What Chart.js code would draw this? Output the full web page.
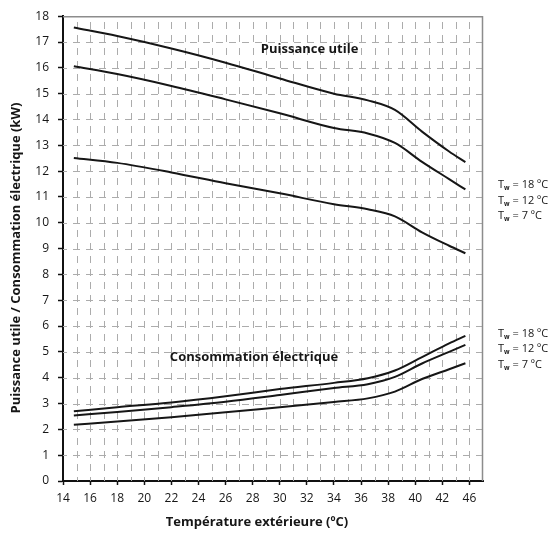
<!DOCTYPE html>
<html>
<head>
<meta charset="utf-8">
<script src="https://cdn.jsdelivr.net/npm/chart.js@4/dist/chart.umd.min.js"></script>
<style>
  html, body { margin: 0; padding: 0; background: #ffffff; }
  #c { display: block; }
</style>
</head>
<body>
<canvas id="c" width="556" height="538" style="width:556px;height:538px"></canvas>
<script>
// Outdoor temperature positions along the x axis (°C scale units)
const temperatures = [14.8, 18, 22, 26, 30, 34, 36.5, 38.5, 40.5, 42.5, 43.7];

// Heating output (kW) for three water temperatures
const puissanceTw18 = [17.56, 17.23, 16.75, 16.2, 15.59, 15.0, 14.74, 14.37, 13.53, 12.76, 12.35];
const puissanceTw12 = [16.06, 15.76, 15.30, 14.78, 14.24, 13.67, 13.46, 13.09, 12.36, 11.69, 11.29];
const puissanceTw7  = [12.51, 12.32, 11.95, 11.53, 11.14, 10.72, 10.52, 10.25, 9.63, 9.11, 8.82];

// Electrical consumption (kW) for the same water temperatures
const consoTw18 = [2.70, 2.86, 3.04, 3.28, 3.56, 3.80, 3.98, 4.28, 4.80, 5.33, 5.62];
const consoTw12 = [2.54, 2.67, 2.86, 3.07, 3.33, 3.60, 3.75, 4.03, 4.55, 5.00, 5.27];
const consoTw7  = [2.18, 2.30, 2.47, 2.66, 2.86, 3.06, 3.20, 3.46, 3.95, 4.33, 4.56];

// Labels shown under the even x ticks
const xTickLabels = ['14', '16', '18', '20', '22', '24', '26', '28', '30', '32', '34', '36', '38', '40', '42', '46'];

// Water temperatures of the three curves in each group
const waterTemps = ['18', '12', '7'];

const FONT = "'Open Sans', 'DejaVu Sans', sans-serif";
Chart.defaults.font.family = FONT;
Chart.defaults.color = '#1a1a1a';

function toPoints(values) {
  return temperatures.map((t, i) => ({ x: t, y: values[i] }));
}

function curve(label, values) {
  return {
    label,
    data: toPoints(values),
    borderColor: '#161616',
    borderWidth: 2,
    pointRadius: 0,
    fill: false,
    cubicInterpolationMode: 'monotone'
  };
}

const TEXT_DARK = '#161616';

// Dashed background grid: one line per degree, one per kW
const dashedGrid = {
  id: 'dashedGrid',
  beforeDatasetsDraw(chart) {
    const { ctx, chartArea: a, scales: { x, y } } = chart;
    ctx.save();
    ctx.strokeStyle = '#acacac';
    ctx.lineWidth = 1;
    ctx.setLineDash([7, 6]);
    ctx.lineDashOffset = 3;
    for (let v = Math.ceil(x.min) + 1; v < x.max; v++) {
      const px = Math.round(x.getPixelForValue(v)) + 0.5;
      ctx.beginPath();
      ctx.moveTo(px, a.bottom);
      ctx.lineTo(px, a.top);
      ctx.stroke();
    }
    for (let v = Math.ceil(y.min) + 1; v < y.max; v++) {
      const py = Math.round(y.getPixelForValue(v)) + 0.5;
      ctx.beginPath();
      ctx.moveTo(a.left, py);
      ctx.lineTo(a.right, py);
      ctx.stroke();
    }
    ctx.restore();
  }
};

// Frame, axis titles and curve captions
const decorations = {
  id: 'decorations',
  afterDraw(chart) {
    const { ctx, chartArea: a, scales: { x, y } } = chart;
    ctx.save();

    // light frame on top and right
    ctx.strokeStyle = '#8c8c8c';
    ctx.lineWidth = 1.5;
    ctx.beginPath();
    ctx.moveTo(a.left, a.top + 0.5);
    ctx.lineTo(a.right - 0.5, a.top + 0.5);
    ctx.lineTo(a.right - 0.5, a.bottom);
    ctx.stroke();

    ctx.fillStyle = TEXT_DARK;
    ctx.textBaseline = 'middle';
    ctx.textAlign = 'center';

    // curve group captions
    ctx.font = 'bold 13px ' + FONT;
    ctx.fillText('Puissance utile', x.getPixelForValue(32.2), y.getPixelForValue(16.7));
    ctx.fillText('Consommation électrique', x.getPixelForValue(28.1), y.getPixelForValue(4.8));

    // axis titles
    ctx.font = 'bold 13px ' + FONT;
    ctx.fillText('Température extérieure (ºC)', 257, 522);
    ctx.save();
    ctx.translate(16, 258);
    ctx.rotate(-Math.PI / 2);
    ctx.fillText('Puissance utile / Consommation électrique (kW)', 0, 0);
    ctx.restore();

    // water temperature captions at the right of each curve group
    const drawTw = (temp, yVal) => {
      const py = y.getPixelForValue(yVal);
      let px = a.right + 15;
      ctx.textAlign = 'left';
      ctx.font = '11px ' + FONT;
      ctx.fillText('T', px, py);
      px += ctx.measureText('T').width;
      ctx.font = 'bold 6.5px ' + FONT;
      ctx.fillText('w', px, py + 3);
      px += ctx.measureText('w').width;
      ctx.font = '11px ' + FONT;
      ctx.fillText(' = ' + temp + ' ºC', px, py);
    };
    const upper = [11.46, 10.85, 10.27];
    const lower = [5.69, 5.12, 4.5];
    waterTemps.forEach((t, i) => { drawTw(t, upper[i]); drawTw(t, lower[i]); });

    ctx.restore();
  }
};

new Chart(document.getElementById('c'), {
  type: 'line',
  data: {
    datasets: [
      curve('Puissance ' + waterTemps[0], puissanceTw18),
      curve('Puissance ' + waterTemps[1], puissanceTw12),
      curve('Puissance ' + waterTemps[2], puissanceTw7),
      curve('Consommation ' + waterTemps[0], consoTw18),
      curve('Consommation ' + waterTemps[1], consoTw12),
      curve('Consommation ' + waterTemps[2], consoTw7)
    ]
  },
  options: {
    responsive: false,
    animation: false,
    devicePixelRatio: 1,
    layout: { padding: { left: 0, top: 14, right: 73, bottom: 0 } },
    plugins: {
      legend: { display: false },
      tooltip: { enabled: false }
    },
    scales: {
      x: {
        type: 'linear',
        min: 14,
        max: 45,
        ticks: {
          stepSize: 1,
          autoSkip: false,
          maxRotation: 0,
          padding: 6,
          color: TEXT_DARK,
          font: { size: 12 },
          callback: (v) => ((v - 14) % 2 === 0 ? (xTickLabels[(v - 14) / 2] || '') : '')
        },
        grid: {
          drawOnChartArea: false,
          tickLength: 4,
          tickWidth: 1.5,
          tickColor: (c) => (c.tick && (c.tick.value - 14) % 2 === 0 ? '#111' : 'rgba(0,0,0,0)')
        },
        border: { color: '#111', width: 2 },
        afterFit(s) { s.height = 57; }
      },
      y: {
        type: 'linear',
        min: 0,
        max: 18,
        ticks: {
          stepSize: 1,
          padding: 9,
          color: TEXT_DARK,
          font: { size: 12 }
        },
        grid: {
          drawOnChartArea: false,
          tickLength: 5,
          tickWidth: 1.5,
          tickColor: '#111'
        },
        border: { color: '#111', width: 2 },
        afterFit(s) { s.width = 63; }
      }
    }
  },
  plugins: [dashedGrid, decorations]
});
</script>
</body>
</html>
